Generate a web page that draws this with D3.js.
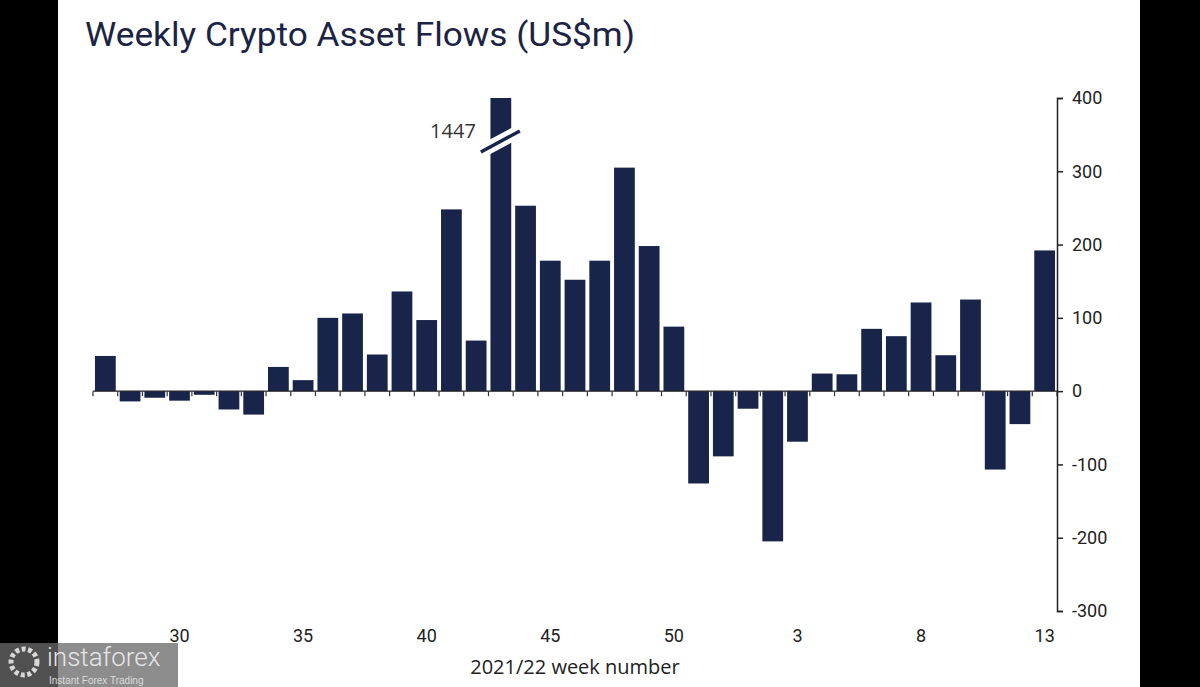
<!DOCTYPE html>
<html>
<head>
<meta charset="utf-8">
<script src="https://cdn.jsdelivr.net/npm/d3@7"></script>
<style>
  html, body { margin: 0; padding: 0; background: #fff; }
  svg { display: block; }
</style>
</head>
<body>
<svg id="chart" width="1200" height="687"></svg>
<script>
const weeks = ["27","28","29","30","31","32","33","34","35","36","37","38","39","40","41","42","43","44","45","46","47","48","49","50","51","52","1","2","3","4","5","6","7","8","9","10","11","12","13"];
const flows = [48,-14,-9,-13,-5,-25,-32,33,15,100,106,50,136,97,248,69,1447,253,178,152,178,305,198,88,-126,-89,-24,-205,-69,24,23,85,75,121,49,125,-107,-45,192];
const xTickLabels = ["30","35","40","45","50","3","8","13"];
const yTicks = [-300,-200,-100,0,100,200,300,400];
const title = "Weekly Crypto Asset Flows (US$m)";
const xTitle = "2021/22 week number";
const breakValue = 1447;

const navy = "#19244a";
const svg = d3.select("#chart");

// frame borders
svg.append("rect").attr("x",0).attr("y",0).attr("width",58).attr("height",687).attr("fill","#000");
svg.append("rect").attr("x",1140).attr("y",0).attr("width",60).attr("height",687).attr("fill","#000");

const x = d3.scaleBand().domain(weeks).range([93,1057]).paddingInner(0.16).paddingOuter(0.08);
const y = d3.scaleLinear().domain([-300,400]).range([611,98]);
const yMax = 400;

// title
svg.append("text").attr("x",85).attr("y",46)
  .attr("font-family","Roboto, 'Open Sans', sans-serif").attr("font-size",33)
  .attr("fill","#1b2445").attr("textLength",550).attr("lengthAdjust","spacingAndGlyphs")
  .text(title);

// bars
svg.append("g").selectAll("rect").data(weeks).join("rect")
  .attr("x", d => x(d))
  .attr("width", x.bandwidth())
  .attr("y", (d,i) => y(Math.max(0, Math.min(flows[i], yMax))))
  .attr("height", (d,i) => Math.abs(y(Math.min(flows[i], yMax)) - y(0)))
  .attr("fill", navy);

// zero line with ticks at band boundaries
const step = x.step(), gap = step - x.bandwidth();
svg.append("line").attr("x1",93).attr("x2",1057).attr("y1",y(0)).attr("y2",y(0))
  .attr("stroke","#222").attr("stroke-width",1.2);
const bounds = weeks.map(d => x(d) - gap/2).concat([x(weeks[weeks.length-1]) + x.bandwidth() + gap/2]);
svg.append("g").selectAll("line").data(bounds).join("line")
  .attr("x1", d => d).attr("x2", d => d)
  .attr("y1", y(0)).attr("y2", y(0)+5)
  .attr("stroke","#333").attr("stroke-width",1.2);

// break marker
const bi = flows.indexOf(breakValue);
const bx = x(weeks[bi]) + x.bandwidth()/2;
const by = 141;
svg.append("line").attr("x1",bx-26).attr("y1",by+14).attr("x2",bx+26).attr("y2",by-14)
  .attr("stroke","#fff").attr("stroke-width",13);
svg.append("line").attr("x1",bx-20).attr("y1",by+11).attr("x2",bx+19).attr("y2",by-10)
  .attr("stroke",navy).attr("stroke-width",3.5);
svg.append("text").attr("x",bx-25).attr("y",138).attr("text-anchor","end")
  .attr("font-family","'Open Sans', sans-serif").attr("font-size",20).attr("fill","#333")
  .text(breakValue);

// right y axis
const yAxis = d3.axisRight(y).tickValues(yTicks).tickSize(6).tickPadding(9).tickFormat(d => String(d));
const ga = svg.append("g").attr("transform","translate(1057,0)").call(yAxis);
ga.select(".domain").attr("stroke","#222").attr("stroke-width",1.5);
ga.selectAll(".tick line").attr("stroke","#222").attr("stroke-width",1.5);
ga.selectAll(".tick text").attr("font-family","Roboto, sans-serif").attr("font-size",18).attr("fill","#222");

// x labels
svg.append("g").selectAll("text").data(xTickLabels).join("text")
  .attr("x", d => x(d) + x.bandwidth()/2)
  .attr("y", 642)
  .attr("text-anchor","middle")
  .attr("font-family","Roboto, sans-serif").attr("font-size",18).attr("fill","#222")
  .text(d => d);

svg.append("text").attr("x",575).attr("y",674).attr("text-anchor","middle")
  .attr("font-family","'Open Sans', sans-serif").attr("font-size",20).attr("fill","#222")
  .text(xTitle);

// watermark
const wm = svg.append("g");
wm.append("rect").attr("x",0).attr("y",643).attr("width",178).attr("height",44)
  .attr("fill","#696969").attr("opacity",0.76);
wm.append("circle").attr("cx",24).attr("cy",662).attr("r",13).attr("fill","none")
  .attr("stroke","#d8d8d8").attr("stroke-width",5).attr("stroke-dasharray","4 2.5");
wm.append("text").attr("x",47).attr("y",666)
  .attr("font-family","Roboto, sans-serif").attr("font-size",26).attr("font-weight",300).attr("fill","#e6e6e6")
  .text("instaforex");
wm.append("text").attr("x",49).attr("y",684)
  .attr("font-family","'Liberation Sans', Arial, sans-serif").attr("font-size",10).attr("fill","#dcdcdc")
  .text("Instant Forex Trading");
</script>
</body>
</html>
